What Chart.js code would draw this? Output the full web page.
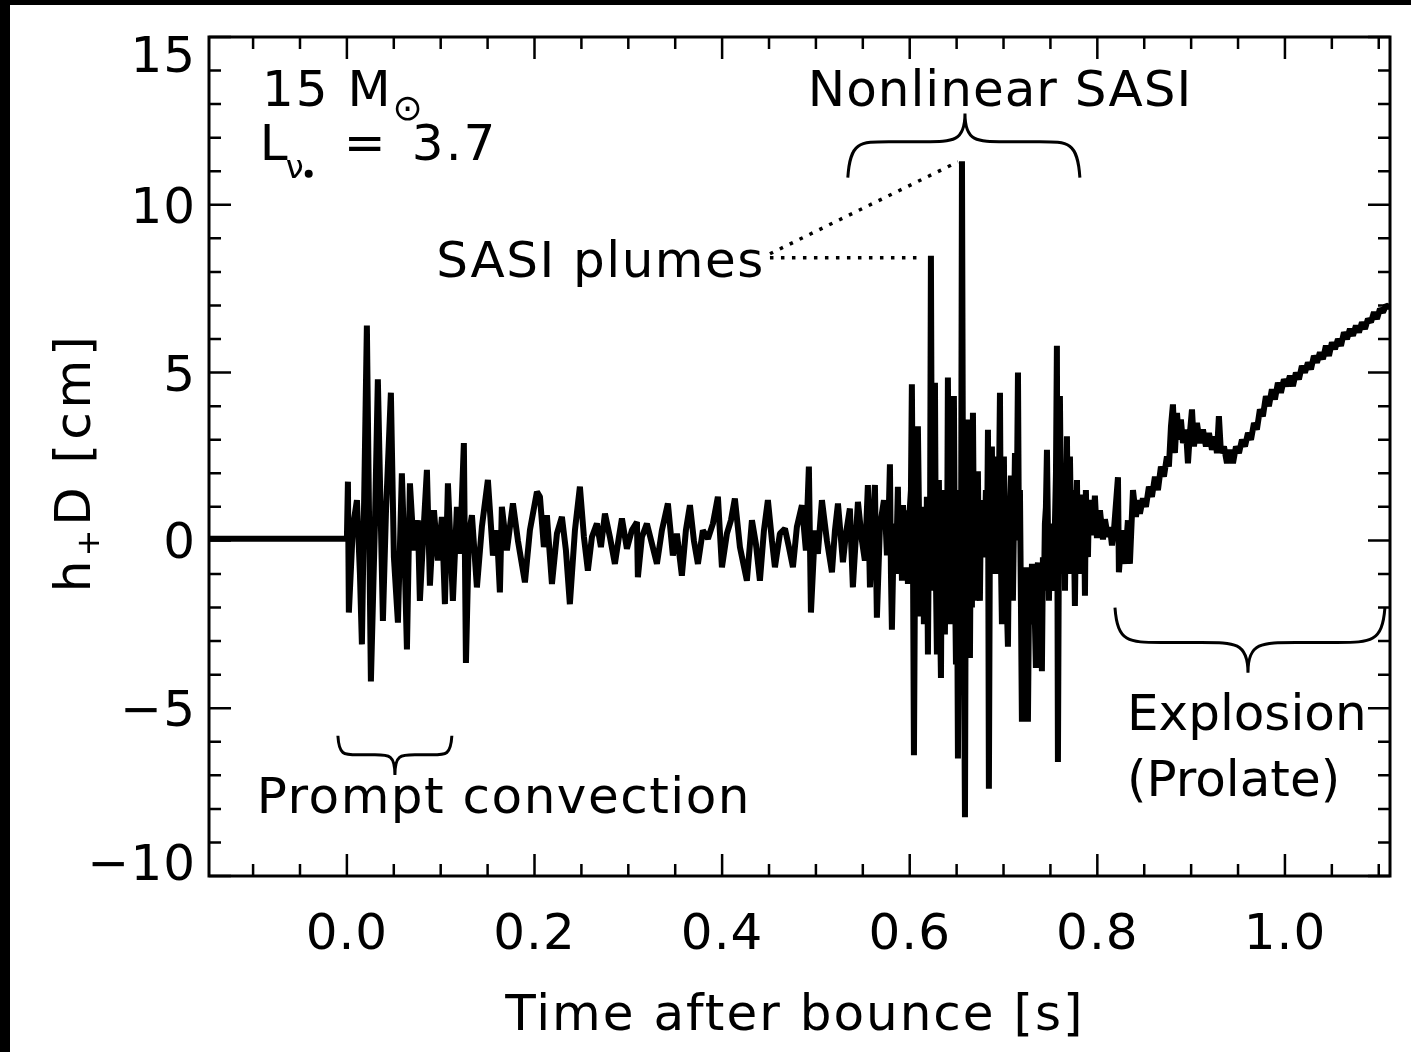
<!DOCTYPE html>
<html>
<head>
<meta charset="utf-8">
<script src="https://cdn.jsdelivr.net/npm/chart.js@4.4.1/dist/chart.umd.min.js"></script>
<style>
html, body { margin: 0; padding: 0; background: #000; }
#wrap { position: absolute; left: 10px; top: 5px; width: 1401px; height: 1047px; background: #fff; }
</style>
</head>
<body>
<div id="wrap"><canvas id="myChart" width="1401" height="1047"></canvas></div>
<script>
// time after bounce [s] and h+D [cm]
// pre-bounce, prompt convection and quiet phase
const earlyTimes = [
  -0.147, 0.0000, 0.0011, 0.0021, 0.0064, 0.0107, 0.0139, 0.0160, 0.0213, 0.0256, 0.0299, 0.0330,
  0.0384, 0.0416, 0.0469, 0.0501, 0.0544, 0.0586, 0.0618, 0.0640, 0.0672, 0.0714,
  0.0757, 0.0778, 0.0821, 0.0853, 0.0885, 0.0928, 0.0970, 0.1013, 0.1045, 0.1077,
  0.1130, 0.1173, 0.1205, 0.1247, 0.1269, 0.1301, 0.1333, 0.1386, 0.1439, 0.1503,
  0.1557, 0.1599, 0.1631, 0.1652, 0.1706, 0.1770, 0.1823, 0.1898, 0.1951, 0.2026,
  0.2058, 0.2100, 0.2132, 0.2186, 0.2239, 0.2292, 0.2335, 0.2377, 0.2431, 0.2484,
  0.2527, 0.2569, 0.2612, 0.2665, 0.2708, 0.2751, 0.2804, 0.2857, 0.2900, 0.2932,
  0.2985, 0.3038, 0.3092, 0.3102, 0.3145, 0.3198, 0.3252, 0.3305, 0.3358, 0.3422,
  0.3475, 0.3518, 0.3571, 0.3614, 0.3657, 0.3699, 0.3742, 0.3795, 0.3849, 0.3902,
  0.3955, 0.3998, 0.4051, 0.4094, 0.4136, 0.4190, 0.4264, 0.4318, 0.4360, 0.4403,
  0.4446, 0.4488, 0.4531, 0.4563, 0.4616, 0.4670, 0.4712, 0.4755, 0.4797, 0.4851,
  0.4893, 0.4925, 0.4947, 0.4989, 0.5021, 0.5064, 0.5117, 0.5171, 0.5203, 0.5235,
  0.5288, 0.5320, 0.5362, 0.5394, 0.5448, 0.5490, 0.5522, 0.5554, 0.5576, 0.5608,
  0.5629, 0.5650, 0.5682, 0.5725
]
const earlyValues = [
  0.05, 0.05, 1.75, -2.15, 0.4, 1.2, -1.0, -3.1, 6.4, -4.2, 0.5, 4.8,
  -2.4, 0.8, 4.4, -0.5, -2.45, 2.0, -0.8, -3.25, 1.7, -0.3,
  0.6, -1.8, 0.5, 2.1, -1.35, 0.9, -0.6, 0.7, -1.9, 1.7,
  -1.8, 1.0, -0.4, 2.9, -3.65, 0.2, 0.75, -1.4, 0.4, 1.8,
  -0.45, 0.3, -1.55, 1.0, -0.3, 1.1, 0.0, -1.25, 0.3, 1.45,
  1.3, -0.2, 0.75, -1.3, 0.2, 0.7, -0.3, -1.9, 0.3, 1.6,
  0.1, -0.9, 0.1, 0.5, -0.2, 0.8, 0.1, -0.7, 0.1, 0.65,
  -0.25, 0.3, 0.55, -1.1, 0.1, 0.5, -0.1, -0.7, 0.3, 1.1,
  -0.45, 0.2, -1.05, 0.3, 1.05, 0.0, -0.7, 0.3, 0.05, 0.5,
  1.3, -0.8, 0.2, 0.6, 1.25, -0.2, -1.2, 0.6, -0.1, -1.2,
  0.3, 1.2, 0.0, -0.8, 0.2, 0.35, -0.2, -0.8, 0.4, 1.05,
  -0.3, 2.2, -2.15, 0.3, -0.4, 1.2, 0.0, -0.95, 0.3, 1.1,
  -0.65, 0.2, 0.95, -1.4, 1.15, 0.0, -0.6, 1.65, -1.4, 0.5,
  1.65, -2.3, 0.4, 1.2
]

// nonlinear SASI phase
const sasiTimes = [
  0.5746, 0.5757, 0.5778, 0.5789, 0.5800, 0.5810, 0.5832, 0.5853, 0.5874, 0.5885,
  0.5906, 0.5917, 0.5928, 0.5949, 0.5959, 0.5981, 0.5991, 0.6013, 0.6023, 0.6034,
  0.6045, 0.6055, 0.6066, 0.6077, 0.6087, 0.6098, 0.6109, 0.6119, 0.6130, 0.6141,
  0.6151, 0.6162, 0.6173, 0.6183, 0.6194, 0.6205, 0.6215, 0.6226, 0.6237, 0.6247,
  0.6258, 0.6269, 0.6279, 0.6290, 0.6301, 0.6311, 0.6322, 0.6333, 0.6343, 0.6354,
  0.6365, 0.6375, 0.6386, 0.6397, 0.6407, 0.6418, 0.6429, 0.6439, 0.6450, 0.6461,
  0.6471, 0.6482, 0.6493, 0.6503, 0.6514, 0.6525, 0.6535, 0.6546, 0.6557, 0.6567,
  0.6578, 0.6589, 0.6599, 0.6610, 0.6620, 0.6631, 0.6642, 0.6652, 0.6663, 0.6674,
  0.6684, 0.6695, 0.6706, 0.6716, 0.6727, 0.6738, 0.6748, 0.6759, 0.6770, 0.6780,
  0.6802, 0.6812, 0.6823, 0.6834, 0.6844, 0.6855, 0.6866, 0.6876, 0.6887, 0.6898,
  0.6908, 0.6919, 0.6930, 0.6940, 0.6951, 0.6962, 0.6972, 0.6983, 0.6994, 0.7004,
  0.7015, 0.7026, 0.7036, 0.7047, 0.7058, 0.7068, 0.7079, 0.7090, 0.7100, 0.7111,
  0.7122, 0.7132, 0.7143, 0.7154, 0.7164, 0.7175, 0.7186, 0.7196, 0.7207, 0.7217,
  0.7228, 0.7239, 0.7249, 0.7260, 0.7271, 0.7281, 0.7292, 0.7303, 0.7313, 0.7324,
  0.7335, 0.7345, 0.7356, 0.7367, 0.7377, 0.7388, 0.7399, 0.7409, 0.7420, 0.7431,
  0.7441, 0.7452, 0.7463, 0.7473, 0.7484, 0.7495, 0.7505, 0.7516, 0.7527, 0.7537,
  0.7548, 0.7559, 0.7569, 0.7580, 0.7591, 0.7601, 0.7612, 0.7623, 0.7633, 0.7644,
  0.7655, 0.7665, 0.7676, 0.7687, 0.7697, 0.7708, 0.7719, 0.7729, 0.7740, 0.7751,
  0.7761, 0.7772, 0.7783, 0.7793, 0.7804, 0.7814, 0.7825, 0.7836, 0.7846, 0.7857,
  0.7868, 0.7878, 0.7889, 0.7900, 0.7910, 0.7921
]
const sasiValues = [
  0.3, -0.45, 1.0, 2.27, -1.0, -2.66, 0.5, -1.0, 1.6, -0.6,
  0.8, -1.2, 1.05, -0.5, 0.9, -1.3, 0.5, 1.5, 4.65, 0.0,
  -6.4, -1.5, 1.0, -2.0, 3.4, 1.0, -2.27, 0.5, -1.8, 0.8,
  -2.5, 1.0, -1.6, 1.3, -3.4, 0.5, -1.0, 8.48, 0.0, -1.5,
  1.5, 4.7, -1.0, -3.4, 0.5, 1.8, -2.0, -4.1, 0.8, -0.5,
  1.5, -2.8, 0.5, -1.5, 4.85, 0.0, -2.5, 1.2, -1.5, 1.0,
  4.3, -1.0, -3.7, 0.5, -6.5, 0.0, 1.5, -2.0, 11.3, 2.0,
  -3.0, -8.25, 1.0, -2.0, 3.6, 0.5, -3.5, 1.0, -2.0, 3.8,
  0.0, -1.8, 1.5, -1.0, 2.06, -1.5, -1.8, 1.0, 1.2, -0.5,
  0.3, 1.5, -0.5, 3.3, -7.4, 0.5, -1.0, 2.8, -0.5, -0.1,
  2.0, 2.5, -1.0, -0.1, 1.5, 4.4, -0.5, -2.5, 1.0, 2.5,
  -1.0, 0.5, -2.0, -3.17, 0.0, 1.0, 1.93, 0.0, -1.8, 0.5,
  2.6, 0.0, 1.5, 5.0, 0.0, 1.5, -2.0, -5.4, -1.5, -1.0,
  -2.0, -0.8, -3.0, -5.4, -2.0, -1.3, -2.5, -0.7, -1.8, -1.0,
  -2.5, -3.8, -1.0, -0.66, -1.8, -2.2, -1.0, -3.9, -0.5, -1.5,
  0.5, 1.0, 2.7, 0.5, -1.8, 0.0, -1.0, -1.5, 0.5, -0.5,
  0.5, 2.0, 5.8, -6.6, 0.5, 4.3, 1.0, -1.0, 0.0, 1.5,
  -1.5, 1.0, 3.1, 0.0, -1.0, 2.5, 0.5, -0.5, 1.5, 0.0,
  -1.95, 0.5, 1.8, -0.5, 1.0, 0.0, -1.0, 1.37, 0.0, 1.0,
  -1.65, 1.5, 0.0, -0.5, 1.0, 1.2
]

// shock revival and prolate explosion
const lateTimes = [
  0.7953, 0.7974, 0.7996, 0.8028, 0.8060,
  0.8081, 0.8113, 0.8134, 0.8156, 0.8177, 0.8220, 0.8230, 0.8262, 0.8294, 0.8326,
  0.8347, 0.8380, 0.8412, 0.8433, 0.8454, 0.8486, 0.8518, 0.8550, 0.8582, 0.8614,
  0.8646, 0.8678, 0.8710, 0.8742, 0.8763, 0.8785, 0.8806, 0.8827, 0.8849, 0.8870,
  0.8891, 0.8913, 0.8945, 0.8966, 0.8987, 0.9009, 0.9030, 0.9062, 0.9094, 0.9126,
  0.9158, 0.9190, 0.9222, 0.9254, 0.9275, 0.9296, 0.9318, 0.9350, 0.9382, 0.9414,
  0.9446, 0.9478, 0.9510, 0.9542, 0.9574, 0.9606, 0.9638, 0.9670, 0.9701, 0.9733,
  0.9765, 0.9797, 0.9829, 0.9861, 0.9893, 0.9925, 0.9957, 0.9989, 1.0021, 1.0053,
  1.0085, 1.0117, 1.0149, 1.0181, 1.0213, 1.0245, 1.0277, 1.0309, 1.0341, 1.0373,
  1.0405, 1.0437, 1.0469, 1.0501, 1.0533, 1.0565, 1.0597, 1.0629, 1.0661, 1.0693,
  1.0725, 1.0757, 1.0789, 1.0821, 1.0853, 1.0885, 1.0917, 1.0949, 1.0981, 1.1013,
  1.1045, 1.1077, 1.1119
]
const lateValues = [
  0.15, 1.33, 0.07, 0.9, 0.03,
  0.63, 0.1, 0.4, -0.15, 0.3, 1.88, -0.95, 0.3, -0.7, 0.6,
  -0.7, 1.5, 0.7, 1.2, 0.8, 1.25, 1.0, 1.6, 1.3, 1.9,
  1.5, 2.2, 1.9, 2.5, 2.2, 3.4, 4.05, 2.6, 3.8, 3.0,
  3.6, 2.9, 3.3, 2.3, 3.2, 3.9, 2.8, 3.5, 2.9, 3.3,
  2.8, 3.2, 2.7, 3.1, 2.6, 3.7, 2.6, 2.8, 2.3, 2.7,
  2.3, 2.8, 2.6, 3.0, 2.8, 3.2, 3.0, 3.5, 3.3, 3.9,
  3.7, 4.3, 4.0, 4.5, 4.2, 4.7, 4.4, 4.8, 4.6, 4.9,
  4.6, 5.0, 4.8, 5.2, 5.0, 5.3, 5.1, 5.5, 5.3, 5.6,
  5.4, 5.8, 5.5, 5.9, 5.7, 6.0, 5.8, 6.2, 6.0, 6.3,
  6.1, 6.4, 6.2, 6.5, 6.3, 6.6, 6.5, 6.8, 6.6, 6.9,
  6.8, 7.0, 6.95
]

const xTicks = [0.0, 0.2, 0.4, 0.6, 0.8, 1.0]
const xTickLabels = ['0.0', '0.2', '0.4', '0.6', '0.8', '1.0']
const yTicks = [-10, -5, 0, 5, 10, 15]
const yTickLabels = ['\u221210', '\u22125', '0', '5', '10', '15']

const times = earlyTimes.concat(sasiTimes, lateTimes)
const hD = earlyValues.concat(sasiValues, lateValues)
if (times.length !== hD.length) console.error('length mismatch', times.length, hD.length)

const FONT = '"DejaVu Sans", sans-serif'

function txt(ctx, s, x, y, size, align, spacing) {
  ctx.font = size + 'px ' + FONT
  ctx.textAlign = align || 'left'
  ctx.letterSpacing = (spacing || 0) + 'px'
  ctx.fillText(s, x, y)
  const w = ctx.measureText(s).width
  ctx.letterSpacing = '0px'
  return w
}

// curly brace; tip points from yMid towards yTip
function brace(ctx, x1, x2, xt, yEnd, yMid, yTip) {
  const a = xt - x1, b = x2 - xt
  ctx.beginPath()
  ctx.moveTo(x1, yEnd)
  ctx.bezierCurveTo(x1 + 0.02 * a, yMid, x1 + 0.1 * a, yMid, x1 + 0.35 * a, yMid)
  ctx.lineTo(xt - 0.35 * a, yMid)
  ctx.bezierCurveTo(xt - 0.1 * a, yMid, xt, yMid, xt, yTip)
  ctx.bezierCurveTo(xt, yMid, xt + 0.1 * b, yMid, xt + 0.35 * b, yMid)
  ctx.lineTo(x2 - 0.35 * b, yMid)
  ctx.bezierCurveTo(x2 - 0.1 * b, yMid, x2 - 0.02 * b, yMid, x2, yEnd)
  ctx.stroke()
}

const overlay = {
  id: 'overlay',
  afterDatasetsDraw(chart) {
    const {ctx, chartArea: a, scales: {x, y}} = chart
    const X = v => x.getPixelForValue(v)
    const Y = v => y.getPixelForValue(v)
    ctx.save()
    ctx.strokeStyle = '#000'
    ctx.fillStyle = '#000'
    ctx.lineCap = 'butt'

    // frame
    ctx.lineWidth = 3
    ctx.strokeRect(a.left, a.top, a.right - a.left, a.bottom - a.top)

    // inward ticks on all four sides
    ctx.lineWidth = 2.5
    ctx.beginPath()
    for (let i = -3; i <= 22; i++) {
      const v = i * 0.05
      if (v < x.min || v > x.max) continue
      const len = (i % 4 === 0) ? 22 : 12
      const px = X(v)
      ctx.moveTo(px, a.bottom); ctx.lineTo(px, a.bottom - len)
      ctx.moveTo(px, a.top); ctx.lineTo(px, a.top + len)
    }
    for (let v = -10; v <= 15; v++) {
      const len = (v % 5 === 0) ? 22 : 12
      const py = Y(v)
      ctx.moveTo(a.left, py); ctx.lineTo(a.left + len, py)
      ctx.moveTo(a.right, py); ctx.lineTo(a.right - len, py)
    }
    ctx.stroke()

    // tick labels
    xTicks.forEach((v, i) => txt(ctx, xTickLabels[i], X(v), a.bottom + 73, 50, 'center', 1))
    yTicks.forEach((v, i) => {
      const cy = Math.min(Math.max(Y(v), a.top + 17), a.bottom - 14)
      txt(ctx, yTickLabels[i], a.left - 13, cy + 18, 50, 'right', 1)
    })

    // axis titles
    txt(ctx, 'Time after bounce [s]', X(0.4776), a.bottom + 154, 50, 'center', 2)
    ctx.save()
    ctx.translate(a.left - 119, Y(2.27))
    ctx.rotate(-Math.PI / 2)
    ctx.font = '50px ' + FONT
    ctx.letterSpacing = '4px'
    const wh = ctx.measureText('h').width
    const wr = ctx.measureText('D [cm]').width
    ctx.letterSpacing = '0px'
    ctx.font = '32px ' + FONT
    const wp = ctx.measureText('+').width
    let cx = -(wh + wp + wr) / 2
    txt(ctx, 'h', cx, 0, 50, 'left', 4); cx += wh
    txt(ctx, '+', cx, 9, 32, 'left', 0); cx += wp + 4
    txt(ctx, 'D [cm]', cx, 0, 50, 'left', 4)
    ctx.restore()

    // annotations
    let w = txt(ctx, '15 M', X(-0.0906), Y(12.93), 50, 'left', 2)
    txt(ctx, '\u2299', X(-0.0906) + w, Y(12.93) + 14, 36, 'left', 0)
    w = txt(ctx, 'L', X(-0.0928), Y(11.34), 50, 'left', 0)
    txt(ctx, '\u03bd', X(-0.0928) + w - 2, Y(11.34) + 18, 32, 'left', 0)
    ctx.beginPath()
    ctx.arc(X(-0.0928) + w + 21, Y(11.34) + 14, 4, 0, Math.PI * 2)
    ctx.fill()
    txt(ctx, '=', X(-0.0928) + 84, Y(11.34), 50, 'left', 0)
    txt(ctx, '3.7', X(-0.0928) + 152, Y(11.34), 50, 'left', 2)

    txt(ctx, 'Nonlinear SASI', X(0.6962), Y(12.93), 50, 'center', 1)
    txt(ctx, 'SASI plumes', X(0.4456), Y(7.85), 50, 'right', 1.5)
    txt(ctx, 'Prompt convection', X(-0.096), Y(-8.12), 50, 'left', 1.5)
    txt(ctx, 'Explosion', X(0.8316), Y(-5.64), 50, 'left', 0)
    txt(ctx, '(Prolate)', X(0.8316), Y(-7.61), 50, 'left', 0)

    ctx.lineWidth = 3
    brace(ctx, X(0.534), X(0.7814), X(0.6589), Y(10.81), Y(11.88), Y(12.72))
    brace(ctx, X(-0.0096), X(0.1119), X(0.0512), Y(-5.82), Y(-6.39), Y(-6.99))
    brace(ctx, X(0.8188), X(1.1066), X(0.9606), Y(-2.0), Y(-3.04), Y(-3.94))

    // dotted pointers from "SASI plumes"
    ctx.setLineDash([3.5, 7.5])
    ctx.lineWidth = 3.5
    ctx.beginPath()
    ctx.moveTo(X(0.451), Y(8.42)); ctx.lineTo(X(0.611), Y(8.42))
    ctx.moveTo(X(0.451), Y(8.54)); ctx.lineTo(X(0.6514), Y(11.28))
    ctx.stroke()
    ctx.restore()
  }
}

const ctx = document.getElementById('myChart')
new Chart(ctx, {
  type: 'line',
  data: {
    datasets: [{
      data: times.map((t, i) => ({x: t, y: hD[i]})),
      borderColor: '#000',
      borderWidth: 6,
      borderJoinStyle: 'bevel',
      pointRadius: 0,
      tension: 0,
      fill: false
    }]
  },
  options: {
    responsive: false,
    animation: false,
    devicePixelRatio: 1,
    layout: {padding: {left: 199, right: 21, top: 32, bottom: 176}},
    plugins: {legend: {display: false}, tooltip: {enabled: false}},
    scales: {
      x: {type: 'linear', min: -0.147, max: 1.112, display: false},
      y: {min: -10, max: 15, display: false}
    }
  },
  plugins: [overlay]
})
</script>
</body>
</html>
